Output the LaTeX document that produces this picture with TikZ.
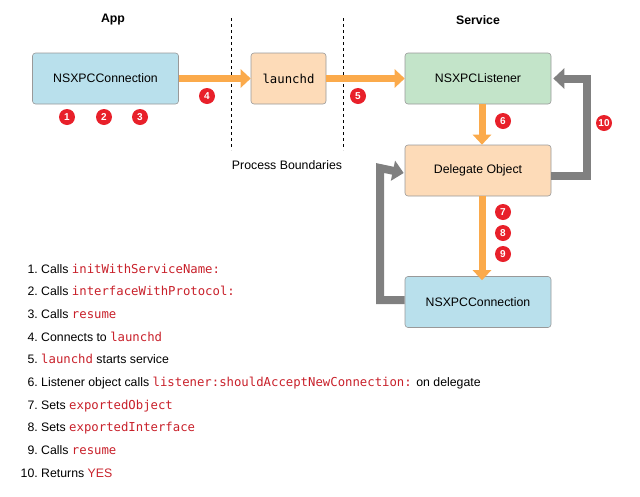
\documentclass[tikz,border=0pt]{standalone}
\usepackage{fontspec}
\setmainfont{Liberation Sans}
\newfontfamily\codefont{DejaVu Sans Mono}
\usetikzlibrary{arrows.meta}
\definecolor{bxblue}{HTML}{B9E0EC}
\definecolor{bxorange}{HTML}{FDDBB8}
\definecolor{bxgreen}{HTML}{C3E4C9}
\definecolor{arrorange}{HTML}{FBAA4B}
\definecolor{arrgray}{HTML}{808080}
\definecolor{codered}{HTML}{C8202A}
\definecolor{badgered}{HTML}{E8202A}
\newcommand{\cd}[1]{{\codefont\color{codered}#1}}
\tikzset{
 box/.style={draw=black!40,rounded corners=3pt,minimum width=146pt,minimum height=51pt,font=\fontsize{12.3}{14}\selectfont,line width=0.6pt},
 oarr/.style={draw=arrorange,line width=7pt,-{Triangle[width=18pt,length=10pt]}},
 garr/.style={draw=arrgray,line width=8pt,-{Triangle[width=20pt,length=11pt]}},
 badge/.style={circle,fill=badgered,text=white,inner sep=0pt,minimum size=16pt,font=\bfseries\fontsize{10}{11}\selectfont},
 item/.style={anchor=base west,font=\fontsize{12.3}{14}\selectfont,inner sep=0pt},
 num/.style={anchor=base east,font=\fontsize{12.3}{14}\selectfont,inner sep=0pt},
}
\begin{document}
\begin{tikzpicture}[x=1pt,y=-1pt]
\useasboundingbox (0,0) rectangle (640,496);
\node[box,fill=bxblue] (app) at (105.5,78.5) {NSXPCConnection};
\node[box,fill=bxorange,minimum width=75pt] (ld) at (288.5,78.5) {\codefont launchd};
\node[box,fill=bxgreen] (lis) at (478,78.5) {NSXPCListener};
\node[box,fill=bxorange] (del) at (478,170.5) {Delegate Object};
\node[box,fill=bxblue] (con) at (478,302) {NSXPCConnection};
\draw[dashed,line width=0.8pt] (231,18) -- (231,150);
\draw[dashed,line width=0.8pt] (343,18) -- (343,150);
\node[font=\bfseries\fontsize{12.3}{14}\selectfont] (lapp) at (113,20) {App};
\node[font=\bfseries\fontsize{12.3}{14}\selectfont] (lsrv) at (478,20) {Service};
\node[font=\fontsize{12.3}{14}\selectfont] (lpb) at (287,165) {Process Boundaries};
\draw[oarr] (app.east) -- (ld.west);
\draw[oarr] (ld.east) -- (lis.west);
\draw[oarr] ([xshift=4pt]lis.south) -- ([xshift=4pt]del.north);
\draw[oarr] ([xshift=4pt]del.south) -- ([xshift=4pt,yshift=-4pt]con.north);
\draw[garr] ([yshift=-5pt]del.east) -- (587,175.5) -- (587,78.5) -- ([xshift=2pt]lis.east);
\draw[garr] ([yshift=2pt]con.west) -- (380,300) -- (380,168) -- ([xshift=-1pt,yshift=-2.5pt]del.west);
\node[badge] (b1) at (67,117) {1};
\node[badge] (b2) at (104,117) {2};
\node[badge] (b3) at (140,117) {3};
\node[badge] (b4) at (207,96) {4};
\node[badge] (b5) at (358,96) {5};
\node[badge] (b6) at (503,121) {6};
\node[badge] (b10) at (604,123) {10};
\node[badge] (b7) at (503,212) {7};
\node[badge] (b8) at (503,233) {8};
\node[badge] (b9) at (503,254) {9};
\foreach \i/\t [count=\k] in {
 1/{Calls \cd{initWithServiceName:}},
 2/{Calls \cd{interfaceWithProtocol:}},
 3/{Calls \cd{resume}},
 4/{Connects to \cd{launchd}},
 5/{\cd{launchd} starts service},
 6/{Listener object calls \cd{listener:shouldAcceptNewConnection:} on delegate},
 7/{Sets \cd{exportedObject}},
 8/{Sets \cd{exportedInterface}},
 9/{Calls \cd{resume}},
 10/{Returns {\color{codered}YES}}} {
 \node[num] (n\i) at (38,{273+22.7*(\i-1)}) {\i.};
 \node[item] (t\i) at (41,{273+22.7*(\i-1)}) {\t};
}
\end{tikzpicture}
\end{document}
